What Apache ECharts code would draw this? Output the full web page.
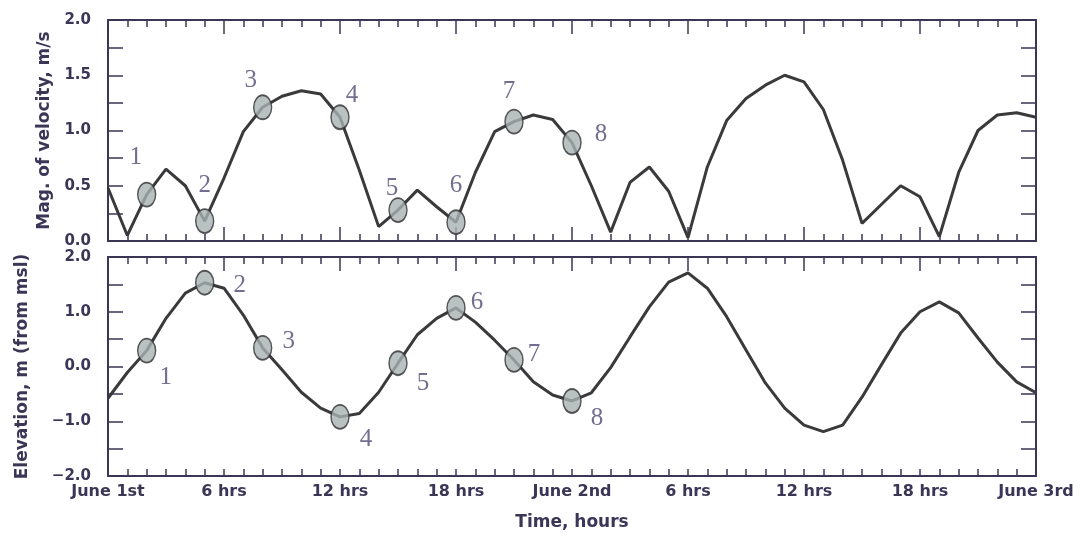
<!DOCTYPE html>
<html>
<head>
<meta charset="utf-8">
<script src="https://cdn.jsdelivr.net/npm/echarts@6/dist/echarts.min.js"></script>
<style>
  html, body { margin: 0; padding: 0; background: #ffffff; }
  #chart { width: 1082px; height: 538px; }
</style>
</head>
<body>
<div id="chart"></div>
<script>
// Hourly samples from June 1st 00:00 (hour 0) to June 3rd 00:00 (hour 48)
const hours = Array.from({ length: 49 }, (_, i) => i);

// Magnitude of velocity, m/s
const velocity = [
  0.48, 0.05, 0.42, 0.65, 0.50, 0.18, 0.57, 0.99, 1.21, 1.31,
  1.36, 1.33, 1.12, 0.64, 0.13, 0.28, 0.46, 0.31, 0.17, 0.62,
  0.99, 1.08, 1.14, 1.10, 0.89, 0.50, 0.08, 0.53, 0.67, 0.45,
  0.03, 0.67, 1.09, 1.29, 1.41, 1.50, 1.44, 1.19, 0.73, 0.16,
  0.33, 0.50, 0.40, 0.04, 0.62, 1.00, 1.14, 1.16, 1.12
];

// Water surface elevation, m (from msl)
const elevation = [
  -0.58, -0.11, 0.29, 0.88, 1.34, 1.53, 1.43, 0.94, 0.34, -0.06,
  -0.47, -0.76, -0.92, -0.86, -0.47, 0.06, 0.58, 0.88, 1.07, 0.81,
  0.48, 0.12, -0.28, -0.52, -0.63, -0.48, -0.02, 0.54, 1.09, 1.54,
  1.71, 1.43, 0.91, 0.30, -0.30, -0.76, -1.07, -1.19, -1.07, -0.56,
  0.03, 0.61, 1.00, 1.18, 0.98, 0.52, 0.08, -0.28, -0.48
];

// Numbered sampling instants (hour of the record)
const markerHours = [2, 5, 8, 12, 15, 18, 21, 24];
const markerNames = ['1', '2', '3', '4', '5', '6', '7', '8'];

// Time axis labels, one every 6 hours
const timeLabels = ['June 1st', '6 hrs', '12 hrs', '18 hrs', 'June 2nd',
                    '6 hrs', '12 hrs', '18 hrs', 'June 3rd'];

// Where each number sits relative to its marker (px)
const velLabelOffsets = [[-11, -37], [0, -36], [-12, -27], [12, -22],
                         [-6, -22], [0, -37], [-5, -30], [29, -8]];
const elevLabelOffsets = [[19, 27], [35, 3], [26, -6], [26, 23],
                          [25, 20], [21, -5], [20, -5], [25, 17]];

const ink = '#3b3656';
const lineInk = '#3a3a3c';
const tickFont = { fontFamily: 'DejaVu Sans', fontWeight: 'bold', color: ink };

function timeAxis(grid, position, opts) {
  return {
    type: 'value', gridIndex: grid, position: position,
    min: 0, max: 48, interval: 6,
    axisLine: { show: true, onZero: false, lineStyle: { color: ink, width: 2 } },
    axisTick: { show: true, inside: true, length: opts.major, lineStyle: { color: ink, width: 1.5 } },
    minorTick: { show: true, splitNumber: 6, length: opts.minor, lineStyle: { color: ink, width: 1.5 } },
    splitLine: { show: false },
    axisLabel: opts.labels ? Object.assign({
      show: true, fontSize: 16, margin: 8,
      formatter: v => timeLabels[Math.round(v / 6)]
    }, tickFont) : { show: false },
    name: opts.name || '', nameLocation: 'middle', nameGap: 38,
    nameTextStyle: Object.assign({ fontSize: 17 }, tickFont)
  };
}

function valueAxis(grid, position, opts) {
  return {
    type: 'value', gridIndex: grid, position: position,
    min: opts.min, max: opts.max, interval: opts.interval,
    axisLine: { show: true, onZero: false, lineStyle: { color: ink, width: 2 } },
    axisTick: { show: true, inside: true, length: 15, lineStyle: { color: ink, width: 1.5 } },
    minorTick: { show: true, splitNumber: 2, length: 15, lineStyle: { color: ink, width: 1.5 } },
    splitLine: { show: false },
    axisLabel: opts.labels ? Object.assign({
      show: true, fontSize: 15, margin: 17,
      formatter: v => v.toFixed(1).replace('-', '\u2212')
    }, tickFont) : { show: false },
    name: opts.name || '', nameLocation: 'middle', nameGap: opts.nameGap || 50,
    nameTextStyle: Object.assign({ fontSize: 17 }, tickFont)
  };
}

function markerSeries(xi, yi, values, offsets) {
  return {
    type: 'scatter', xAxisIndex: xi, yAxisIndex: yi, z: 5,
    symbol: 'circle', symbolSize: [18, 24],
    itemStyle: { color: '#a9b1b2', borderColor: '#2f2f33', borderWidth: 1.6 },
    data: markerHours.map((h, i) => ({
      value: [h, values[h]],
      label: {
        show: true, position: 'inside', offset: offsets[i],
        formatter: markerNames[i],
        fontFamily: 'Liberation Serif', fontSize: 25, color: '#4f4a74'
      }
    }))
  };
}

const chart = echarts.init(document.getElementById('chart'), null, { renderer: 'canvas' });
chart.setOption({
  animation: false,
  backgroundColor: '#ffffff',
  grid: [
    { left: 108, right: 46, top: 20, height: 221 },
    { left: 108, right: 46, top: 257, height: 219 }
  ],
  xAxis: [
    timeAxis(0, 'bottom', { major: 14, minor: 7 }),
    timeAxis(0, 'top', { major: 14, minor: 7 }),
    timeAxis(1, 'bottom', { major: 7, minor: 7, labels: true, name: 'Time, hours' }),
    timeAxis(1, 'top', { major: 14, minor: 7 })
  ],
  yAxis: [
    valueAxis(0, 'left', { min: 0, max: 2, interval: 0.5, labels: true,
                           name: 'Mag. of velocity, m/s', nameGap: 55 }),
    valueAxis(0, 'right', { min: 0, max: 2, interval: 0.5 }),
    valueAxis(1, 'left', { min: -2, max: 2, interval: 1, labels: true,
                           name: 'Elevation, m (from msl)', nameGap: 77 }),
    valueAxis(1, 'right', { min: -2, max: 2, interval: 1 })
  ],
  series: [
    {
      type: 'line', xAxisIndex: 0, yAxisIndex: 0, symbol: 'none',
      lineStyle: { color: lineInk, width: 3 },
      data: hours.map(h => [h, velocity[h]])
    },
    {
      type: 'line', xAxisIndex: 2, yAxisIndex: 2, symbol: 'none',
      lineStyle: { color: lineInk, width: 3 },
      data: hours.map(h => [h, elevation[h]])
    },
    markerSeries(0, 0, velocity, velLabelOffsets),
    markerSeries(2, 2, elevation, elevLabelOffsets)
  ]
});
</script>
</body>
</html>
